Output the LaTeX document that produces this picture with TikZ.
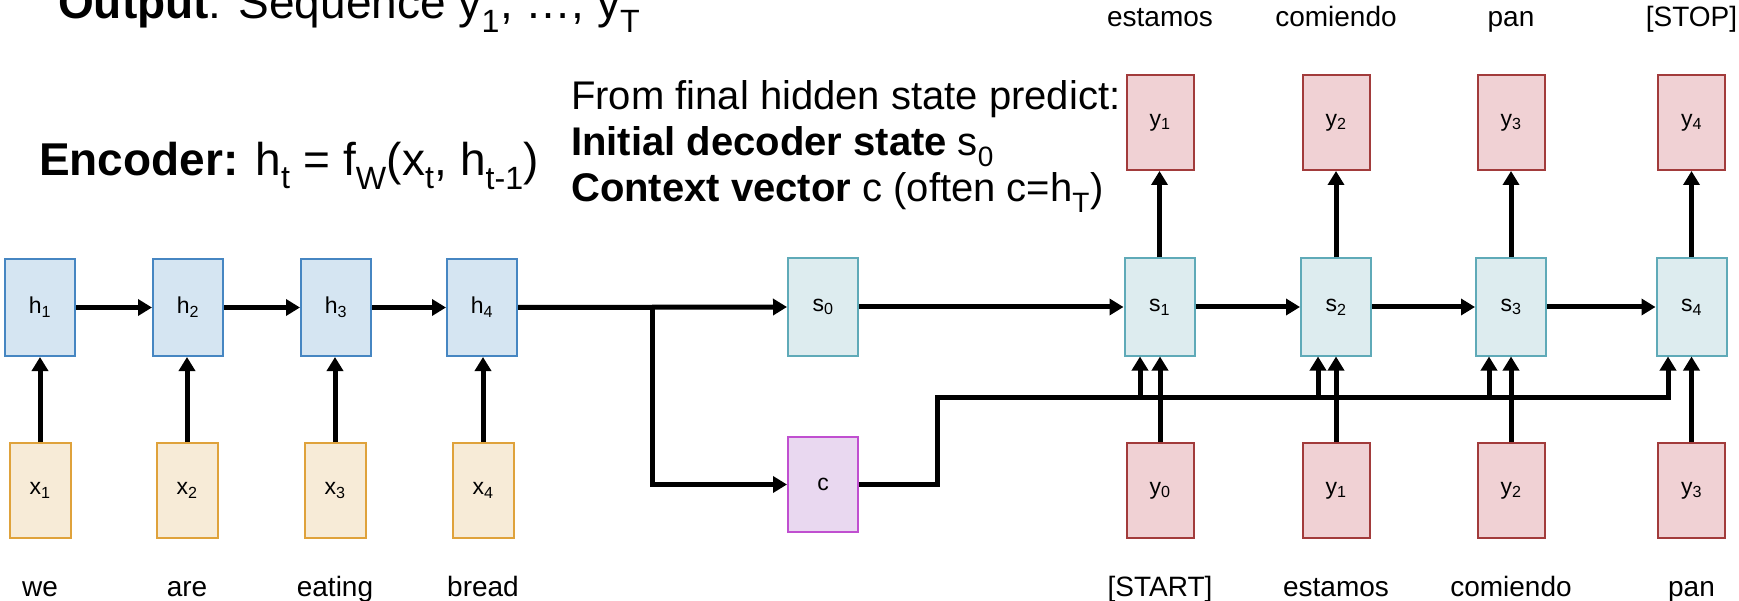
\documentclass[tikz,border=0pt]{standalone}
\usepackage{fontspec}
\setmainfont{Liberation Sans}
\usetikzlibrary{arrows.meta,calc}
\newcommand\myfs[1]{\fontsize{#1}{#1}\selectfont}
\newcommand\mysub[1]{\textsubscript{#1}}
\definecolor{hF}{HTML}{D5E5F2}
\definecolor{hB}{HTML}{4686C2}
\definecolor{xF}{HTML}{F7EBD7}
\definecolor{xB}{HTML}{DFA23B}
\definecolor{sF}{HTML}{DDECEF}
\definecolor{sB}{HTML}{5FAAB8}
\definecolor{cF}{HTML}{E9D8F0}
\definecolor{cB}{HTML}{C04FD0}
\definecolor{yF}{HTML}{F0D1D4}
\definecolor{yB}{HTML}{A23B3B}
\begin{document}
\begin{tikzpicture}[x=1pt,y=-1pt,
  box/.style={line width=2pt, inner sep=0pt, font=\myfs{23}},
  hbox/.style={box, draw=hB, fill=hF, minimum width=70pt, minimum height=97pt},
  xbox/.style={box, draw=xB, fill=xF, minimum width=61pt, minimum height=95pt},
  sbox/.style={box, draw=sB, fill=sF, minimum width=70pt, minimum height=97pt},
  cbox/.style={box, draw=cB, fill=cF, minimum width=70pt, minimum height=95pt},
  ybox/.style={box, draw=yB, fill=yF, minimum width=67pt, minimum height=95pt},
  word/.style={anchor=base, inner sep=0pt, font=\myfs{28}},
  arr/.style={line width=5pt, -{Triangle[length=14pt,width=16pt]}}]
\path[use as bounding box] (0,0) rectangle (1739,601);
\clip (0,0) rectangle (1739,601);

% header texts
\node[anchor=base west, inner sep=0pt, font=\myfs{46}] (out) at (58,19) {\textbf{Output}: Sequence y\mysub{1}, \dots, y\mysub{T}};
\node[anchor=base west, inner sep=0pt, font=\myfs{46}] (enc) at (39,176) {\textbf{Encoder:} h\mysub{t} = f\mysub{W}(x\mysub{t}, h\mysub{t-1})};
\node[anchor=base west, inner sep=0pt, align=left, font=\fontsize{40}{46}\selectfont] (pred) at (571,202)
  {From final hidden state predict:\\
   \textbf{Initial decoder state} s\mysub{0}\\
   \textbf{Context vector} c (often c=h\mysub{T})};

% encoder
\node[hbox] (h1) at (40,307.5) {h\mysub{1}};
\node[hbox] (h2) at (188,307.5) {h\mysub{2}};
\node[hbox] (h3) at (336,307.5) {h\mysub{3}};
\node[hbox] (h4) at (482,307.5) {h\mysub{4}};
\node[xbox] (x1) at (40,490.5) {x\mysub{1}};
\node[xbox] (x2) at (187,490.5) {x\mysub{2}};
\node[xbox] (x3) at (335,490.5) {x\mysub{3}};
\node[xbox] (x4) at (483,490.5) {x\mysub{4}};
\node[word] (w1) at (40,596) {we};
\node[word] (w2) at (187,596) {are};
\node[word] (w3) at (335,596) {eating};
\node[word] (w4) at (483,596) {bread};

% s0 and c
\node[sbox] (s0) at (823,307) {s\mysub{0}};
\node[cbox] (c) at (823,484.5) {c};

% decoder
\node[sbox] (s1) at (1159.5,307) {s\mysub{1}};
\node[sbox] (s2) at (1336,307) {s\mysub{2}};
\node[sbox] (s3) at (1511,307) {s\mysub{3}};
\node[sbox] (s4) at (1691.5,307) {s\mysub{4}};
\node[ybox] (yo1) at (1160,122.5) {y\mysub{1}};
\node[ybox] (yo2) at (1336,122.5) {y\mysub{2}};
\node[ybox] (yo3) at (1511,122.5) {y\mysub{3}};
\node[ybox] (yo4) at (1691.5,122.5) {y\mysub{4}};
\node[ybox] (yi1) at (1160,490.5) {y\mysub{0}};
\node[ybox] (yi2) at (1336,490.5) {y\mysub{1}};
\node[ybox] (yi3) at (1511,490.5) {y\mysub{2}};
\node[ybox] (yi4) at (1691.5,490.5) {y\mysub{3}};
\node[word] (o1) at (1160,27) {estamos};
\node[word] (o2) at (1336,27) {comiendo};
\node[word] (o3) at (1511,27) {pan};
\node[word] (o4) at (1691.5,27) {[STOP]};
\node[word] (i1) at (1160,596) {[START]};
\node[word] (i2) at (1336,596) {estamos};
\node[word] (i3) at (1511,596) {comiendo};
\node[word] (i4) at (1691.5,596) {pan};

% encoder connectors
\foreach \i in {1,...,4} {
  \draw[arr] (x\i.north) -- (x\i.north |- h\i.south);
}
\draw[arr] (h1.east) -- (h2.west);
\draw[arr] (h2.east) -- (h3.west);
\draw[arr] (h3.east) -- (h4.west);
\draw[arr] (h4.east) -- (s0.west);
\coordinate (j) at (652,307);
\draw[arr] (j) |- (c.west);

% decoder chain
\draw[arr] (s0.east) -- (s1.west);
\draw[arr] (s1.east) -- (s2.west);
\draw[arr] (s2.east) -- (s3.west);
\draw[arr] (s3.east) -- (s4.west);
\foreach \i in {1,...,4} {
  \draw[arr] (s\i.north) -- (s\i.north |- yo\i.south);
}

% context bus
\coordinate (k2) at (937,397);
\coordinate (b1) at (1140,397);
\coordinate (b2) at (1318,397);
\coordinate (b3) at (1489,397);
\coordinate (b4) at (1668,397);
\draw[arr, line join=miter] (c.east) -| (k2) -- (b4) -- (b4 |- s4.south);
\draw[arr] (b1) -- (b1 |- s1.south);
\draw[arr] (b2) -- (b2 |- s2.south);
\draw[arr] (b3) -- (b3 |- s3.south);

% decoder inputs
\foreach \i in {1,...,4} {
  \draw[arr] (yi\i.north) -- (yi\i.north |- s\i.south);
}
\end{tikzpicture}
\end{document}
